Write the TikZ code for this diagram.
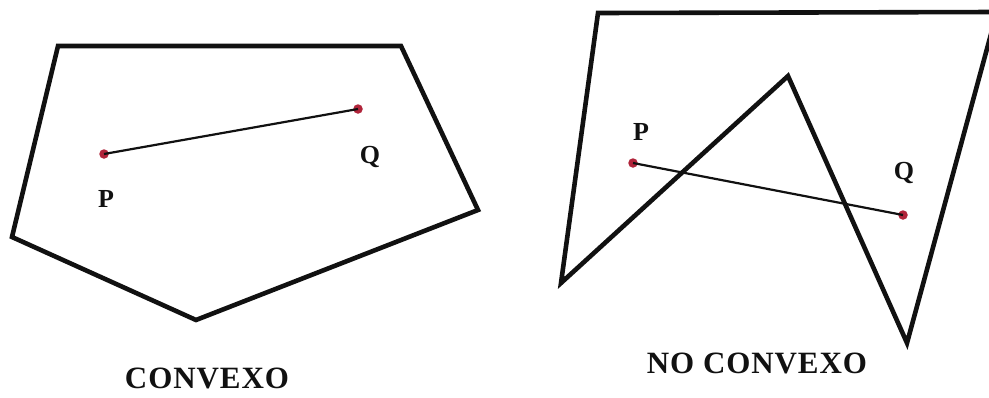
\documentclass[tikz,border=0pt]{standalone}
\usepackage{fontspec}
\setmainfont{Liberation Serif}
\usepackage{xcolor}
\usetikzlibrary{positioning}
\definecolor{ink}{HTML}{111111}
\definecolor{dot}{HTML}{B0243A}

\begin{document}
\begin{tikzpicture}[x=1pt,y=-1pt,
 poly/.style={draw=ink,line width=4.6pt},
 seg/.style={draw=ink,line width=2.2pt},
 pt/.style={circle,fill=dot,inner sep=0pt,minimum size=9.5pt},
 lbl/.style={font=\fontsize{26}{26}\selectfont\bfseries,text=ink,inner sep=0pt},
 ttl/.style={font=\fontsize{31}{31}\selectfont\addfontfeature{LetterSpace=3}\bfseries,text=ink,inner sep=0pt}
]
\useasboundingbox (0,0) rectangle (989,397);
\clip (0,0) rectangle (989,397);
% convex pentagon
\coordinate (c1) at (58,46);
\coordinate (c2) at (401,46);
\coordinate (c3) at (478,210);
\coordinate (c4) at (196,320);
\coordinate (c5) at (12,237);
\draw[poly] (c1)--(c2)--(c3)--(c4)--(c5)--cycle;
\node[pt] (P1) at (104,154) {};
\node[pt] (Q1) at (358,109) {};
\draw[seg] (P1.center)--(Q1.center);
\node[lbl] (p1) at (106,199) {P};
\node[lbl] (q1) at (370,157) {Q};
\node[ttl] (t1) at (207,378) {CONVEXO};
% non convex polygon
\coordinate (n1) at (598,13);
\coordinate (n2) at (997,12);
\coordinate (n3) at (907,343);
\coordinate (n4) at (788,76);
\coordinate (n5) at (561,283);
\draw[poly] (n1)--(n2)--(n3)--(n4)--(n5)--cycle;
\node[pt] (P2) at (633,163) {};
\node[pt] (Q2) at (903,215) {};
\draw[seg] (P2.center)--(Q2.center);
\node[lbl] (p2) at (641,132) {P};
\node[lbl] (q2) at (904,173) {Q};
\node[ttl] (t2) at (757,363) {NO CONVEXO};
\end{tikzpicture}
\end{document}
